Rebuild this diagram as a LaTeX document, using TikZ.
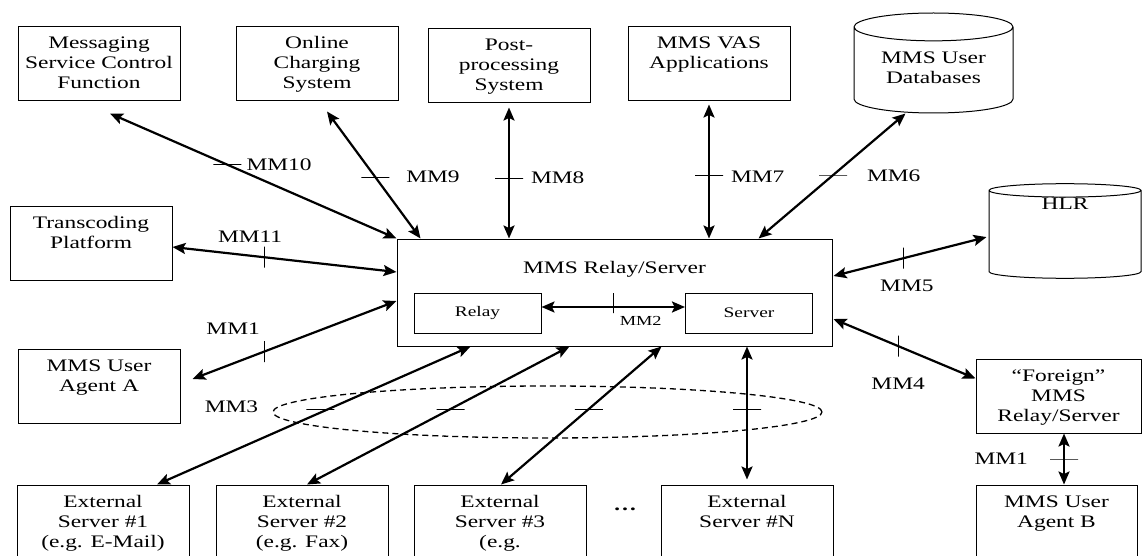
\documentclass[tikz,border=0pt]{standalone}
\usepackage{fontspec}
\setmainfont{Liberation Serif}[FakeStretch=1.33]
\usetikzlibrary{arrows.meta,positioning,shapes.geometric,calc}

\tikzset{
  box/.style={draw, line width=1pt, align=center, inner xsep=2pt, inner ysep=0pt,
    minimum width=162pt, text height=62pt, text depth=12pt},
  box2/.style={box, text height=42pt, text depth=32pt},
  part/.style={draw, line width=1pt, minimum width=127pt, minimum height=40pt,
    inner sep=0pt, font=\fontsize{14.6}{16}\selectfont},
  db/.style={draw, line width=1pt, cylinder, shape border rotate=90,
    shape aspect=0.25, align=center, anchor=shape center},
  link/.style={line width=2.2pt, <->},
  htick/.style={draw, line width=0.9pt, minimum width=28pt, minimum height=0pt,
    inner sep=0pt, outer sep=0pt},
  vtick/.style={draw, line width=0.9pt, minimum width=0pt, minimum height=21pt,
    inner sep=0pt, outer sep=0pt},
  lbl/.style={inner sep=0pt}
}

\begin{document}
\begin{tikzpicture}[x=1pt, y=-1pt, font=\fontsize{17.6}{20}\selectfont,
  >={Stealth[length=13pt,width=11pt,inset=2.5pt]}]
  \clip (0,0) rectangle (1142,556);

  \node[box] (msc) at (99,64) {Messaging\\Service Control\\Function};
  \node[box] (ocs) at (317,64) {Online\\Charging\\System};
  \node[box] (pps) at (509,66) {Post-\\processing\\System};
  \node[box2] (vas) at (709,64) {MMS VAS\\Applications};
  \node[db, minimum width=159pt, minimum height=100pt, text height=26pt, text depth=4pt] (udb) at (933.5,63) {MMS User\\Databases};
  \node[db, minimum width=152pt, minimum height=88pt, inner ysep=0pt, text height=12pt, text depth=64pt] (hlr) at (1065,231) {HLR};
  \node[box2] (tp) at (91,243.5) {Transcoding\\Platform};
  \node[box2] (uaa) at (99,386.5) {MMS User\\Agent A};
  \node[box, minimum width=435pt, text height=34pt, text depth=73pt] (mms) at (614.5,292.5) {MMS Relay/Server};
  \node[part] (relay) at (477.5,313) {Relay};
  \node[part] (server) at (749,313) {Server};
  \node[box, minimum width=165pt] (frs) at (1058.5,396) {“Foreign”\\MMS\\Relay/Server};
  \node[box2, minimum width=161pt] (uab) at (1056.5,522) {MMS User\\Agent B};
  \node[box, minimum width=172pt] (ext1) at (103,522) {External\\Server \#1\\(e.g. E-Mail)};
  \node[box, minimum width=172pt] (ext2) at (302,522) {External\\Server \#2\\(e.g. Fax)};
  \node[box, minimum width=172pt] (ext3) at (500,522) {External\\Server \#3\\(e.g.};
  \node[box2, minimum width=172pt] (extn) at (747,522) {External\\Server \#N};
  \node[lbl] (dots) at (625,509) {\textbf{\dots}};

  \node[draw, ellipse, line width=1.3pt, dash pattern=on 6pt off 4pt, minimum width=549pt,
    minimum height=52pt, inner sep=0pt] (grp) at (547.5,412) {};
  \node[lbl, left=14pt of grp.west, yshift=5pt] (lmm3) {MM3};

  \draw[link] ($(msc.south)+(11,12)$) -- node[htick,pos=0.41]{} node[lbl,pos=0.41,right=18pt]{MM10} (mms.north west);
  \draw[link] ($(ocs.south)+(10,10)$) -- node[htick,pos=0.516]{} node[lbl,pos=0.516,right=30pt]{MM9} ($(mms.north west)+(24,0)$);
  \draw[link] ($(pps.south)+(0,4)$) -- node[htick,pos=0.538]{} node[lbl,pos=0.538,right=21pt]{MM8} (pps.south |- mms.north);
  \draw[link] ($(vas.south)+(0,3)$) -- node[htick,pos=0.526]{} node[lbl,pos=0.54,right=21pt]{MM7} (vas.south |- mms.north);
  \draw[link] ($(udb.south)+(-28,0)$) -- node[htick,pos=0.492]{} node[lbl,pos=0.5,right=34pt]{MM6} ($(mms.north east)+(-74,0)$);
  \draw[link] ($(hlr.west)+(-2,1.5)$) -- node[vtick,pos=0.54]{} node[lbl,pos=0.54,below=21pt,xshift=3pt]{MM5} ($(mms.east)+(1,-16.5)$);
  \draw[link] ($(mms.east)+(1,26.5)$) -- node[vtick,pos=0.455]{} node[lbl,pos=0.455,below=31pt]{MM4} ($(frs.north west)+(0,20)$);
  \draw[link] ($(frs.south)+(5.5,0)$) -- node[htick,pos=0.5]{} node[lbl,pos=0.5,left=35pt]{MM1} ($(uab.north)+(7.5,0)$);
  \draw[link] ($(tp.east)+(0,3.5)$) -- node[vtick,pos=0.409]{} node[lbl,pos=0.409,above=13.5pt,xshift=-14pt]{MM11} ($(mms.west)+(0,-20.5)$);
  \draw[link] ($(uaa.east)+(12,-7.5)$) -- node[vtick,pos=0.351]{} node[lbl,pos=0.351,above=16pt,xshift=-31pt]{MM1} ($(mms.west)+(0,8.5)$);
  \draw[link] ($(relay.east)+(0,-6)$) -- node[vtick,pos=0.5,yshift=4pt,minimum height=20pt]{} node[lbl,pos=0.5,below=8pt,xshift=27.5pt,font=\fontsize{13.8}{15}\selectfont]{MM2} ($(server.west)+(0,-6)$);

  \draw[link] ($(ext1.north)+(54,0)$) -- node[htick,pos=0.547,xshift=-8pt]{} ($(mms.south west)+(74,0)$);
  \draw[link] ($(ext2.north)+(5,0)$) -- node[htick,pos=0.547]{} ($(mms.south west)+(173,0)$);
  \draw[link] ($(ext3.north)+(1,0)$) -- node[htick,pos=0.547]{} ($(mms.south west)+(265,0)$);
  \draw[link] ($(extn.north)+(0,-5)$) -- node[htick,pos=0.53]{} (extn.north |- mms.south);

\end{tikzpicture}
\end{document}
